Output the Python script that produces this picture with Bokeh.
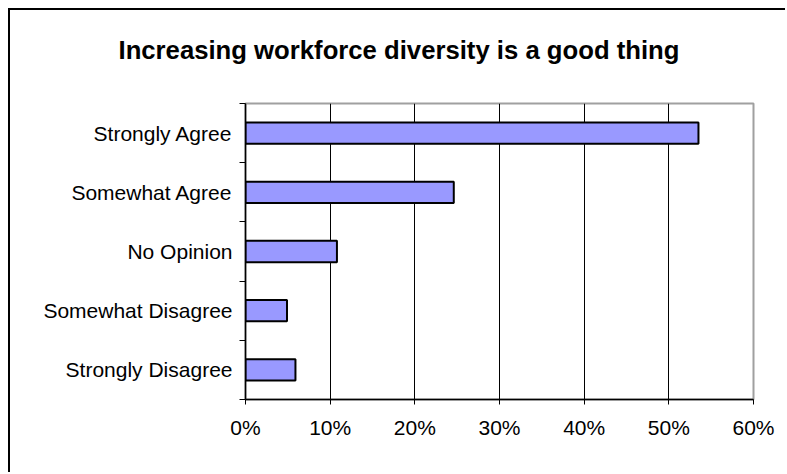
from bokeh.plotting import figure
from bokeh.models import (ColumnDataSource, Range1d, FixedTicker, NumeralTickFormatter,
                          Title)
from bokeh.embed import file_html
from bokeh.resources import INLINE

# Data (bottom to top)
categories = ["Strongly Disagree", "Somewhat Disagree", "No Opinion",
              "Somewhat Agree", "Strongly Agree"]
shares = [0.059, 0.049, 0.108, 0.246, 0.535]
x_ticks = [0.0, 0.1, 0.2, 0.3, 0.4, 0.5, 0.6]
title_text = "Increasing workforce diversity is a good thing"

ypos = [i + 0.5 for i in range(len(categories))]
src = ColumnDataSource(dict(cat=categories, share=shares, y=ypos))

FONT = "Liberation Sans"

p = figure(width=777, height=464, output_backend="svg", toolbar_location=None,
           x_range=Range1d(0, 0.6), y_range=Range1d(0, len(categories)),
           min_border_left=235, min_border_right=34, min_border_top=93,
           min_border_bottom=75, background_fill_color="white",
           border_fill_color="white")
p.title_location = None
p.styles = {"margin-left": "8px", "margin-top": "8px",
            "border-top": "2px solid #000", "border-left": "2px solid #000"}

# spacer between title and plot area
p.add_layout(Title(text=" ", text_font_size="1px", standoff=25), "above")
p.add_layout(Title(text=title_text, text_font=FONT, text_font_size="25.7px",
                   text_font_style="bold", text_color="black", align="left",
                   vertical_align="top", offset=-127, standoff=20), "above")

p.hbar(y="y", left=0, right="share", height=0.36, source=src,
       fill_color="#9999ff", line_color="black", line_width=2)

p.outline_line_color = "#a0a0a0"
p.outline_line_width = 2

# x axis
p.xaxis.ticker = FixedTicker(ticks=x_ticks)
p.xaxis.formatter = NumeralTickFormatter(format="0%")
p.xaxis.major_label_text_font = FONT
p.xaxis.major_label_text_font_size = "21px"
p.xaxis.major_label_text_color = "black"
p.xaxis.major_tick_out = 5
p.xaxis.major_tick_in = 0
p.xaxis.minor_tick_out = 0
p.xaxis.major_label_standoff = 11
p.xaxis.axis_line_color = "black"
p.xaxis.axis_line_width = 1.5
p.xaxis.major_tick_line_color = "black"

# y axis: labels at category centres, ticks at boundaries
p.yaxis.ticker = FixedTicker(ticks=ypos, minor_ticks=list(range(len(categories) + 1)))
p.yaxis.major_label_overrides = {y: c for y, c in zip(ypos, categories)}
p.yaxis.major_label_text_font = FONT
p.yaxis.major_label_text_font_size = "21px"
p.yaxis.major_label_text_color = "black"
p.yaxis.major_tick_out = 0
p.yaxis.major_tick_in = 0
p.yaxis.minor_tick_out = 6
p.yaxis.minor_tick_in = 0
p.yaxis.minor_tick_line_color = "black"
p.yaxis.major_label_standoff = 7
p.yaxis.axis_line_color = "black"
p.yaxis.axis_line_width = 1.5

p.xgrid.ticker = FixedTicker(ticks=x_ticks)
p.xgrid.grid_line_color = "black"
p.xgrid.grid_line_width = 1
p.ygrid.grid_line_color = None

open("out.html", "w").write(file_html(p, INLINE))
